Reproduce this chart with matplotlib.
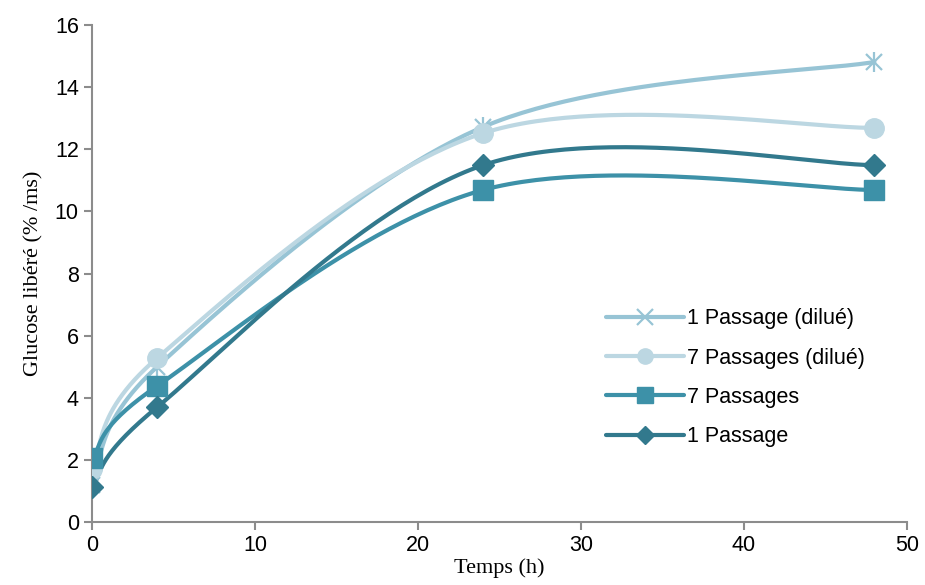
import numpy as np
import matplotlib
matplotlib.use("Agg")
import matplotlib.pyplot as plt

temps = [0, 4, 24, 48]
p1_dilue = [1.2, 5.0, 12.72, 14.81]
p7_dilue = [1.7, 5.28, 12.52, 12.69]
p7 = [2.05, 4.38, 10.69, 10.69]
p1 = [1.12, 3.7, 11.49, 11.49]

series = [
    ("1 Passage (dilué)", p1_dilue, "#97c4d5", "x"),
    ("7 Passages (dilué)", p7_dilue, "#bcd7e2", "o"),
    ("7 Passages", p7, "#3d91a8", "s"),
    ("1 Passage", p1, "#32798d", "D"),
]


def smooth(xs, ys, n=60):
    # Excel-like smoothed line (Catmull-Rom as cubic Bezier)
    pts = np.column_stack([xs, ys]).astype(float)
    ext = np.vstack([pts[0], pts, pts[-1]])
    out = []
    for i in range(len(pts) - 1):
        p0, p1_, p2, p3 = ext[i], ext[i + 1], ext[i + 2], ext[i + 3]
        c1 = p1_ + (p2 - p0) / 6
        c2 = p2 - (p3 - p1_) / 6
        t = np.linspace(0, 1, n)[:, None]
        seg = ((1 - t) ** 3) * p1_ + 3 * ((1 - t) ** 2) * t * c1 + 3 * (1 - t) * t ** 2 * c2 + t ** 3 * p2
        out.append(seg)
    out = np.vstack(out)
    return out[:, 0], out[:, 1]


fig = plt.figure(figsize=(9.25, 5.85), dpi=100)
ax = fig.add_axes([0.0995, 0.1077, 0.881, 0.8495])

for name, vals, col, mk in series:
    sx, sy = smooth(temps, vals)
    ax.plot(sx, sy, color=col, lw=3, solid_capstyle="round", zorder=2)
    if mk == "x":
        ax.plot(temps, vals, ls="none", marker="x", ms=11, mew=1.6, color=col, zorder=3)
        ax.plot(temps, vals, ls="none", marker="|", ms=14, mew=1.6, color=col, zorder=3)
    else:
        ms = {"o": 14, "s": 14, "D": 11}[mk]
        ax.plot(temps, vals, ls="none", marker=mk, ms=ms, color=col, mec=col, zorder=3)
    ax.plot([], [], color=col, lw=3, marker=mk, ms=11 if mk != "D" else 9,
            mew=1.6 if mk == "x" else 1, label=name, solid_capstyle="round")

ax.set_xlim(0, 50)
ax.set_ylim(0, 16)
ax.set_xticks(range(0, 51, 10))
ax.set_yticks(range(0, 17, 2))
for s in ["top", "right"]:
    ax.spines[s].set_visible(False)
for s in ["left", "bottom"]:
    ax.spines[s].set_color("#8c8c8c")
    ax.spines[s].set_linewidth(1.5)
ax.tick_params(axis="both", colors="#8c8c8c", length=6, width=1.5, labelsize=15.5,
               labelcolor="black")
for lab in ax.get_xticklabels() + ax.get_yticklabels():
    lab.set_family("Liberation Sans")

ax.set_xlabel("Temps (h)", family="Liberation Serif", fontsize=16)
ax.set_ylabel("Glucose libéré (% /ms)", family="Liberation Serif", fontsize=16, labelpad=8)
ax.xaxis.set_label_coords(0.5, -0.072)

leg = ax.legend(loc="center left", bbox_to_anchor=(0.607, 0.29), frameon=False,
                prop={"family": "Liberation Sans", "size": 15.5}, handlelength=3.6,
                handletextpad=0.15, labelspacing=0.85)

fig.savefig("out.png", dpi=100)
